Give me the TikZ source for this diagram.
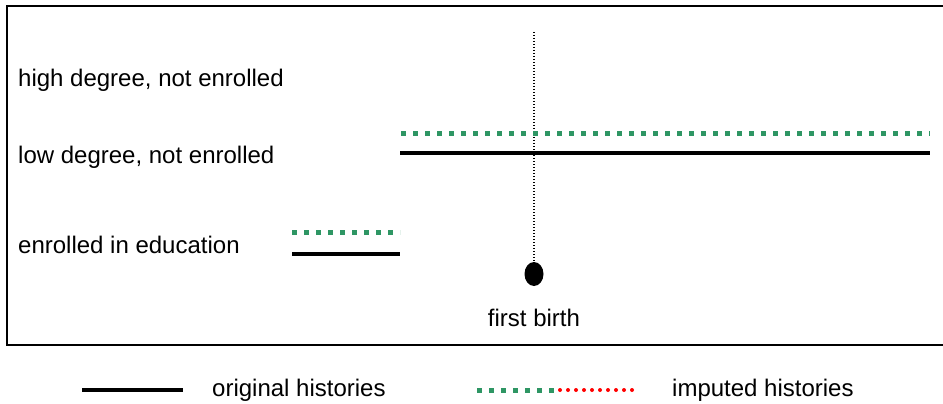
\documentclass[tikz,border=0pt]{standalone}
\usepackage{fontspec}
\setmainfont{Liberation Sans}
\usetikzlibrary{shapes.geometric}
\begin{document}
\begin{tikzpicture}[x=1pt,y=-1pt,
  lbl/.style={inner sep=0pt,font=\fontsize{24}{28}\selectfont},
  orig/.style={line width=4pt,black},
  imp/.style={line width=5pt,color={rgb,255:red,46;green,150;blue,100},dash pattern=on 5pt off 7pt},
  impred/.style={line width=4pt,red,line cap=round,dash pattern=on 0pt off 8pt},
  frame/.style={line width=2.5pt,black}]
\useasboundingbox (0,0) rectangle (943,404);
% outer frame, open to the right
\draw[frame] (960,6) -- (7,6) -- (7,345) -- (960,345);
% state labels
\node[lbl,anchor=west] (hd) at (18,80) {high degree, not enrolled};
\node[lbl,anchor=west] (ld) at (18,157) {low degree, not enrolled};
\node[lbl,anchor=west] (ed) at (18,245) {enrolled in education};
% first birth marker
\coordinate (ftop) at (534,32);
\node[ellipse,fill=black,minimum width=19pt,minimum height=24pt,inner sep=0pt] (fb) at (534,274) {};
\draw[line width=1.2pt,dash pattern=on 1.2pt off 1.8pt] (ftop) -- (fb.north);
\node[lbl] (fbl) at (534,318) {first birth};
% histories
\coordinate (a1) at (401,133); \coordinate (a2) at (930,133);
\coordinate (b1) at (400,153); \coordinate (b2) at (930,153);
\coordinate (c1) at (292,232); \coordinate (c2) at (400,232);
\coordinate (d1) at (292,254); \coordinate (d2) at (400,254);
\draw[imp] (a1) -- (a2);
\draw[orig] (b1) -- (b2);
\draw[imp] (c1) -- (c2);
\draw[orig] (d1) -- (d2);
% legend
\coordinate (l1) at (82,390); \coordinate (l2) at (183,390);
\draw[orig] (l1) -- (l2);
\node[lbl,anchor=west] (lo) at (212,390) {original histories};
\coordinate (m1) at (477,390); \coordinate (m2) at (556,390);
\coordinate (m3) at (560,390); \coordinate (m4) at (634,390);
\draw[imp] (m1) -- (m2);
\draw[impred] (m3) -- (m4);
\node[lbl,anchor=west] (li) at (672,390) {imputed histories};
\end{tikzpicture}
\end{document}
